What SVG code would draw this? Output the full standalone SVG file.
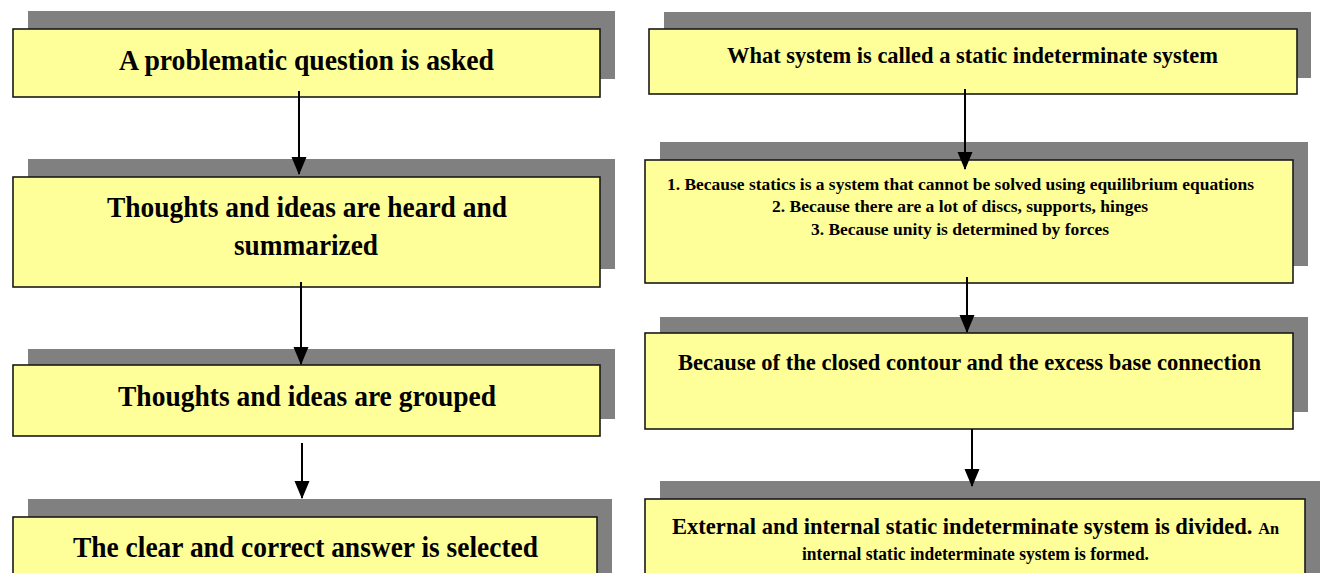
<svg xmlns="http://www.w3.org/2000/svg" width="1321" height="573" viewBox="0 0 1321 573">
<style>
.sh{fill:#808080;}
.bx{fill:#FFFF99;stroke:#1a1a1a;stroke-width:1.6;}
.t{font-family:"Liberation Serif","Times New Roman",serif;font-weight:bold;fill:#000;text-anchor:start;}
.c{stroke:#000;stroke-width:2;fill:none;marker-end:url(#ah);}
</style>
<defs>
<marker id="ah" markerUnits="userSpaceOnUse" markerWidth="18" markerHeight="16" refX="17" refY="8" orient="auto" viewBox="0 0 18 16">
<path d="M0,0.5 L18,8 L0,15.5 Z" fill="#000"/>
</marker>
</defs>
<rect width="1321" height="573" fill="#fff"/>

<g id="n1">
<rect class="sh" x="28" y="11" width="587" height="68"/>
<rect class="bx" x="13" y="29" width="587" height="68"/>
<text class="t" x="119" y="70" font-size="29" textLength="375" lengthAdjust="spacingAndGlyphs">A problematic question is asked</text>
</g>
<g id="n2">
<rect class="sh" x="28" y="159" width="587" height="110"/>
<rect class="bx" x="13" y="177" width="587" height="110"/>
<text class="t" x="107" y="217" font-size="29" textLength="400" lengthAdjust="spacingAndGlyphs">Thoughts and ideas are heard and</text>
<text class="t" x="234" y="255" font-size="29" textLength="144" lengthAdjust="spacingAndGlyphs">summarized</text>
</g>
<g id="n3">
<rect class="sh" x="28" y="349" width="587" height="70"/>
<rect class="bx" x="13" y="365" width="587" height="71"/>
<text class="t" x="118" y="406" font-size="29" textLength="378" lengthAdjust="spacingAndGlyphs">Thoughts and ideas are grouped</text>
</g>
<g id="n4">
<rect class="sh" x="28" y="499" width="584" height="90"/>
<rect class="bx" x="13" y="517" width="584" height="80"/>
<text class="t" x="73" y="557" font-size="29" textLength="465" lengthAdjust="spacingAndGlyphs">The clear and correct answer is selected</text>
</g>

<g id="r1">
<rect class="sh" x="664" y="12" width="647" height="66"/>
<rect class="bx" x="649" y="29" width="648" height="65"/>
<text class="t" x="727" y="63" font-size="24" textLength="491" lengthAdjust="spacingAndGlyphs">What system is called a static indeterminate system</text>
</g>
<g id="r2">
<rect class="sh" x="660" y="142" width="648" height="124"/>
<rect class="bx" x="645" y="160" width="648" height="123"/>
<text class="t" x="667" y="190" font-size="17.5" textLength="587" lengthAdjust="spacingAndGlyphs">1. Because statics is a system that cannot be solved using equilibrium equations</text>
<text class="t" x="772" y="212" font-size="17.5" textLength="376" lengthAdjust="spacingAndGlyphs">2. Because there are a lot of discs, supports, hinges</text>
<text class="t" x="811" y="235" font-size="17.5" textLength="298" lengthAdjust="spacingAndGlyphs">3. Because unity is determined by forces</text>
</g>
<g id="r3">
<rect class="sh" x="660" y="317" width="648" height="95"/>
<rect class="bx" x="645" y="333" width="648" height="96"/>
<text class="t" x="678" y="370" font-size="23.5" textLength="583" lengthAdjust="spacingAndGlyphs">Because of the closed contour and the excess base connection</text>
</g>
<g id="r4">
<rect class="sh" x="660" y="481" width="660" height="100"/>
<rect class="bx" x="645" y="499" width="660" height="90"/>
<text class="t" x="672" y="534" font-size="23.5" textLength="607" lengthAdjust="spacingAndGlyphs">External and internal static indeterminate system is divided. <tspan font-size="17">An</tspan></text>
<text class="t" x="802" y="560" font-size="18" textLength="347" lengthAdjust="spacingAndGlyphs">internal static indeterminate system is formed.</text>
</g>

<g id="connectors">
<line class="c" x1="299" y1="91" x2="299" y2="174"/>
<line class="c" x1="301" y1="282" x2="301" y2="364"/>
<line class="c" x1="302" y1="443" x2="302" y2="498"/>
<line class="c" x1="965" y1="89" x2="965" y2="169"/>
<line class="c" x1="967" y1="277" x2="967" y2="332"/>
<line class="c" x1="972" y1="429" x2="972" y2="486"/>
</g>
</svg>
